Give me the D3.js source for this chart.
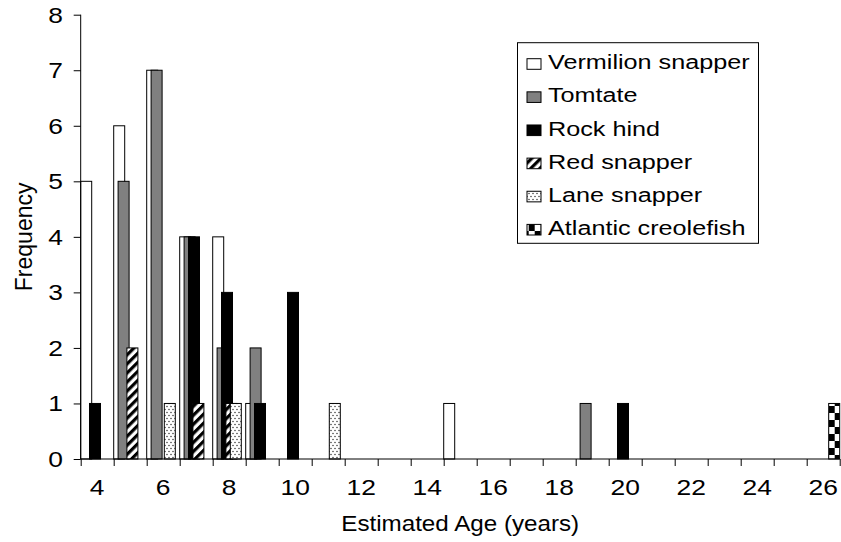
<!DOCTYPE html>
<html>
<head>
<meta charset="utf-8">
<script src="https://cdn.jsdelivr.net/npm/d3@7"></script>
<style>
  html, body { margin: 0; padding: 0; background: #fff; }
  svg { display: block; }
  text { font-family: "Liberation Sans", Arial, sans-serif; fill: #000; }
</style>
</head>
<body>
<svg id="chart" width="841" height="542"></svg>
<script>
// ---- data ----
const ages = [4,5,6,7,8,9,10,11,12,13,14,15,16,17,18,19,20,21,22,23,24,25,26];
const tickLabels = [4,6,8,10,12,14,16,18,20,22,24,26];
const yTicks = [0,1,2,3,4,5,6,7,8];
const seriesNames = ["Vermilion snapper","Tomtate","Rock hind","Red snapper","Lane snapper","Atlantic creolefish"];
const vermilion  = [5,6,7,4,4,1,0,0,0,0,0,1,0,0,0,0,0,0,0,0,0,0,0];
const tomtate    = [0,5,7,4,2,2,0,0,0,0,0,0,0,0,0,1,0,0,0,0,0,0,0];
const rockHind   = [1,0,0,4,3,1,3,0,0,0,0,0,0,0,0,0,1,0,0,0,0,0,0];
const redSnapper = [0,2,0,1,1,0,0,0,0,0,0,0,0,0,0,0,0,0,0,0,0,0,0];
const laneSnapper= [0,0,1,0,1,0,0,1,0,0,0,0,0,0,0,0,0,0,0,0,0,0,0];
const creolefish = [0,0,0,0,0,0,0,0,0,0,0,0,0,0,0,0,0,0,0,0,0,0,1];
const seriesValues = [vermilion, tomtate, rockHind, redSnapper, laneSnapper, creolefish];
const xTitle = "Estimated Age (years)";
const yTitle = "Frequency";

// ---- layout ----
const SX = 1.2;             // horizontal text stretch of the reference
const plotL = 80.7, plotR = 839.7, plotT = 14.7, plotB = 459;
const barW = 11;

const svg = d3.select("#chart");

// patterns
const defs = svg.append("defs");
const fills = ["#ffffff", "#808080", "#000000", "url(#hatch)", "url(#dots)", "url(#checker)"];

const hatch = defs.append("pattern").attr("id","hatch").attr("patternUnits","userSpaceOnUse")
  .attr("width",6.4).attr("height",6.4).attr("patternTransform","rotate(45)");
hatch.append("rect").attr("width",6.4).attr("height",6.4).attr("fill","#fff");
hatch.append("rect").attr("width",3.2).attr("height",6.4).attr("fill","#000");

const dots = defs.append("pattern").attr("id","dots").attr("patternUnits","userSpaceOnUse")
  .attr("width",4).attr("height",6);
dots.append("rect").attr("width",4).attr("height",6).attr("fill","#fff");
dots.append("circle").attr("cx",1).attr("cy",1.5).attr("r",0.75).attr("fill","#333");
dots.append("circle").attr("cx",3).attr("cy",4.5).attr("r",0.75).attr("fill","#333");

const checker = defs.append("pattern").attr("id","checker").attr("patternUnits","userSpaceOnUse")
  .attr("width",12).attr("height",14).attr("x",828.7).attr("y",0);
checker.append("rect").attr("width",12).attr("height",14).attr("fill","#fff");
checker.append("rect").attr("x",0).attr("y",0).attr("width",6).attr("height",7).attr("fill","#000");
checker.append("rect").attr("x",6).attr("y",7).attr("width",6).attr("height",7).attr("fill","#000");

// scales
const x = d3.scaleBand().domain(ages).range([plotL, plotR]).paddingInner(0).paddingOuter(0);
const xOff = d3.scaleLinear().domain([0, seriesNames.length - 1]).range([0, x.bandwidth() - barW]);
const y = d3.scaleLinear().domain([0, 8]).range([plotB, plotT]);
const xEdge = d3.scaleLinear().domain([ages[0] - 0.5, ages[ages.length-1] + 0.5]).range([plotL, plotR]);

// bars (later series drawn on top)
seriesValues.forEach((vals, si) => {
  svg.append("g").selectAll("rect")
    .data(ages.map((a, i) => ({age: a, v: vals[i]})).filter(d => d.v > 0))
    .join("rect")
    .attr("x", d => x(d.age) + xOff(si))
    .attr("y", d => y(d.v))
    .attr("width", barW)
    .attr("height", d => y(0) - y(d.v))
    .attr("fill", fills[si])
    .attr("stroke", "#000")
    .attr("stroke-width", 1);
});

// y axis
const yAxis = svg.append("g").attr("transform", `translate(${plotL},0)`)
  .call(d3.axisLeft(y).tickValues(yTicks).tickSize(7).tickFormat(""));
yAxis.selectAll("path, line").attr("stroke","#000").attr("stroke-width",1);
yAxis.select(".domain").attr("d", `M0,${plotT}V${plotB}`);

// x axis
const xAxis = svg.append("g").attr("transform", `translate(0,${plotB})`)
  .call(d3.axisBottom(xEdge).tickValues(d3.range(ages[0]-0.5, ages[ages.length-1]+1, 1)).tickSize(7).tickFormat(""));
xAxis.selectAll("path, line").attr("stroke","#000").attr("stroke-width",1);
xAxis.select(".domain").attr("d", `M${plotL},0H${plotR}`);

// tick labels (stretched horizontally like the reference)
svg.append("g").selectAll("text").data(yTicks).join("text")
  .attr("transform", d => `translate(63,${y(d) + 8}) scale(${SX},1)`)
  .attr("text-anchor","end").attr("font-size", 22).text(d => d);

svg.append("g").selectAll("text").data(tickLabels).join("text")
  .attr("transform", d => `translate(${x(d) + x.bandwidth()/2},495) scale(${SX},1)`)
  .attr("text-anchor","middle").attr("font-size", 22).text(d => d);

// axis titles
svg.append("text")
  .attr("transform", `translate(${(plotL+plotR)/2},531) scale(1.1,1)`)
  .attr("text-anchor","middle").attr("font-size", 22).text(xTitle);

svg.append("text")
  .attr("transform", `translate(31.5,${(plotT+plotB)/2}) rotate(-90)`)
  .attr("text-anchor","middle").attr("font-size", 23).text(yTitle);

// legend
const lg = svg.append("g");
lg.append("rect").attr("x",517.5).attr("y",42.7).attr("width",241).attr("height",200.6)
  .attr("fill","#fff").attr("stroke","#000").attr("stroke-width",1);
const rowY = d3.scaleLinear().domain([0, 5]).range([69.3, 235]);
seriesNames.forEach((name, si) => {
  const by = rowY(si);
  lg.append("rect").attr("x",527).attr("y",by - 10.6).attr("width",14).attr("height",10.6)
    .attr("fill", fills[si]).attr("stroke","#000").attr("stroke-width",1);
  lg.append("text").attr("transform", `translate(548,${by}) scale(${SX},1)`)
    .attr("font-size", 21).text(name);
});
</script>
</body>
</html>
